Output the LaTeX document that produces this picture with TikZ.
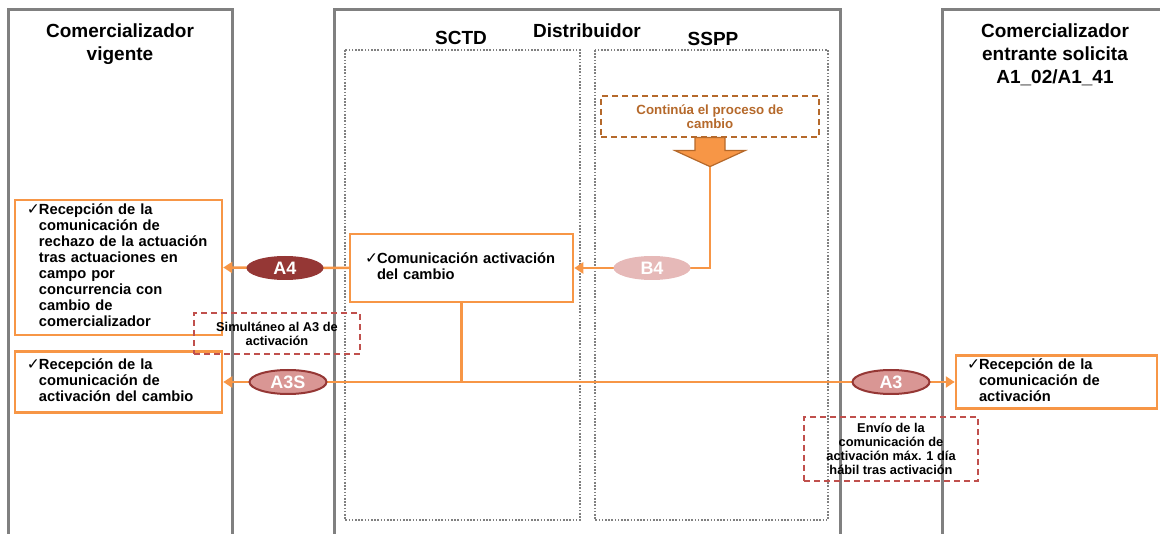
\documentclass[tikz,border=0pt]{standalone}
\usepackage{fontspec}
\setmainfont{Liberation Sans}
\newfontfamily\symfont{DejaVu Sans}
\usepackage{tikz}
\usetikzlibrary{arrows.meta}
\usetikzlibrary{shapes.geometric}

\definecolor{laneGray}{HTML}{808080}
\definecolor{flowOrange}{HTML}{F79646}
\definecolor{darkRed}{HTML}{953735}
\definecolor{roseRed}{HTML}{D99694}
\definecolor{paleRose}{HTML}{E6B9B8}
\definecolor{noteRed}{HTML}{C0504D}
\definecolor{noteBrown}{HTML}{B5692B}

\newcommand{\chk}{{\symfont\fontsize{15.5}{15.5}\selectfont\mdseries ✓}}
\newcommand{\chkText}[1]{\makebox[12pt][l]{\chk}\begin{tabular}[t]{@{}l@{}}#1\end{tabular}}

\begin{document}
\begin{tikzpicture}[x=1pt, y=-1pt]
\tikzstyle{laneTitle} =
[
	font			= \bfseries\fontsize{19}{23}\selectfont,	% lane headings
	align			= center,
	inner sep		= 0pt
]
\tikzstyle{stepBox} =
[
	shape			= rectangle,		% shape
	draw			= flowOrange,		% colour of the border
	line width		= 2.5pt,			% thickness of the border
	fill			= white,
	font			= \bfseries\fontsize{14.7}{16}\selectfont,
	align			= left,
	inner ysep		= 0pt
]
\tikzstyle{msgDark} =
[
	shape			= ellipse,
	fill			= darkRed,
	minimum width	= 77pt,				% | size of the ellipse
	minimum height	= 24pt,				% |
	inner sep		= 0pt,
	text			= white,
	font			= \bfseries\fontsize{18}{18}\selectfont
]
\tikzstyle{msgRose} = [msgDark, fill = roseRed, draw = darkRed, line width = 2pt]
\tikzstyle{msgPale} = [msgDark, fill = paleRose]
\tikzstyle{noteBox} =
[
	shape			= rectangle,
	draw			= noteRed,
	dash pattern	= on 6pt off 4pt,	% dashed border
	line width		= 1.2pt,
	font			= \bfseries\fontsize{12.8}{14}\selectfont,
	align			= center,
	inner sep		= 0pt
]
\tikzstyle{lane} = [draw = laneGray, line width = 3pt]
\tikzstyle{subLane} = [draw = laneGray, line width = 2pt, dash pattern = on 1.6pt off 1.6pt]
\tikzstyle{flow} = [draw = flowOrange, line width = 2.5pt, -{Triangle[length=9pt, width=11pt]}]

\useasboundingbox (0,0) rectangle (1160,534);

% swimlanes
\draw [lane] (8,534) |- (232,10) -- (232,534);
\draw [lane] (334,534) |- (840,10) -- (840,534);
\draw [lane] (942,534) |- (1163,10);
\draw [subLane] (345,50) rectangle (580,520);
\draw [subLane] (595,50) rectangle (828,520);

\node (vigente) [laneTitle, anchor=north] at (120,24) {Comercializador\\vigente};
\node (distrib) [laneTitle, anchor=north] at (587,24) {Distribuidor};
\node (sctd) [laneTitle, anchor=north] at (461,31) {SCTD};
\node (sspp) [laneTitle, anchor=north] at (713,32) {SSPP};
\node (entrante) [laneTitle, anchor=north] at (1055,24) {Comercializador\\entrante solicita\\A1\_02/A1\_41};

% boxes
\node (cont) [noteBox, draw = noteBrown, text = noteBrown, font = \bfseries\fontsize{13.3}{14.5}\selectfont, minimum width = 218pt, minimum height = 41pt] at (710,116.5) {Continúa el proceso de\\cambio};
\node (com) [stepBox, inner xsep = 15pt, text width = 193pt, minimum height = 68pt] at (461.5,268) {\chkText{Comunicación activación\\del cambio}};
\node (rec1) [stepBox, inner xsep = 12pt, text width = 183pt, minimum height = 135pt] at (118.5,267.5) {\chkText{Recepción de la\\comunicación de\\rechazo de la actuación\\tras actuaciones en\\campo por\\concurrencia con\\cambio de\\comercializador}};
\node (rec2) [stepBox, inner xsep = 12pt, text width = 183pt, minimum height = 61pt] at (118.5,382) {\chkText{Recepción de la\\comunicación de\\activación del cambio}};
\node (rec3) [stepBox, inner xsep = 11pt, text width = 179pt, minimum height = 53pt] at (1056.5,382) {\chkText{Recepción de la\\comunicación de\\activación}};
\node (simul) [noteBox, minimum width = 166pt, minimum height = 41pt] at (277,333.5) {Simultáneo al A3 de\\activación};
\node (envio) [noteBox, minimum width = 174pt, minimum height = 64pt] at (891,449) {Envío de la\\comunicación de\\activación máx. 1 día\\hábil tras activación};

% fat arrow below the note
\draw [fill = flowOrange, draw = noteBrown, line width = 1.2pt] (cont.south) ++(-15,0) -- ++(30,0) -- ++(0,13) -- ++(20,0) -- ++(-35,16) -- ++(-35,-16) -- ++(20,0) -- cycle;
\path (cont.south) ++(0,29) coordinate (tip);

% messages
\draw [flow] (tip) |- (com.east);
\draw [flow] (com.west) -- (rec1.east);
\draw [flow] (com.south) |- (rec2.east);
\draw [flow] (com.south) |- (rec3.west);
\node (b4) [msgPale] at (652,268) {B4};
\node (a4) [msgDark] at (285,268) {A4};
\node (a3s) [msgRose] at (288,382) {A3S};
\node (a3) [msgRose] at (891,382) {A3};
\end{tikzpicture}
\end{document}
